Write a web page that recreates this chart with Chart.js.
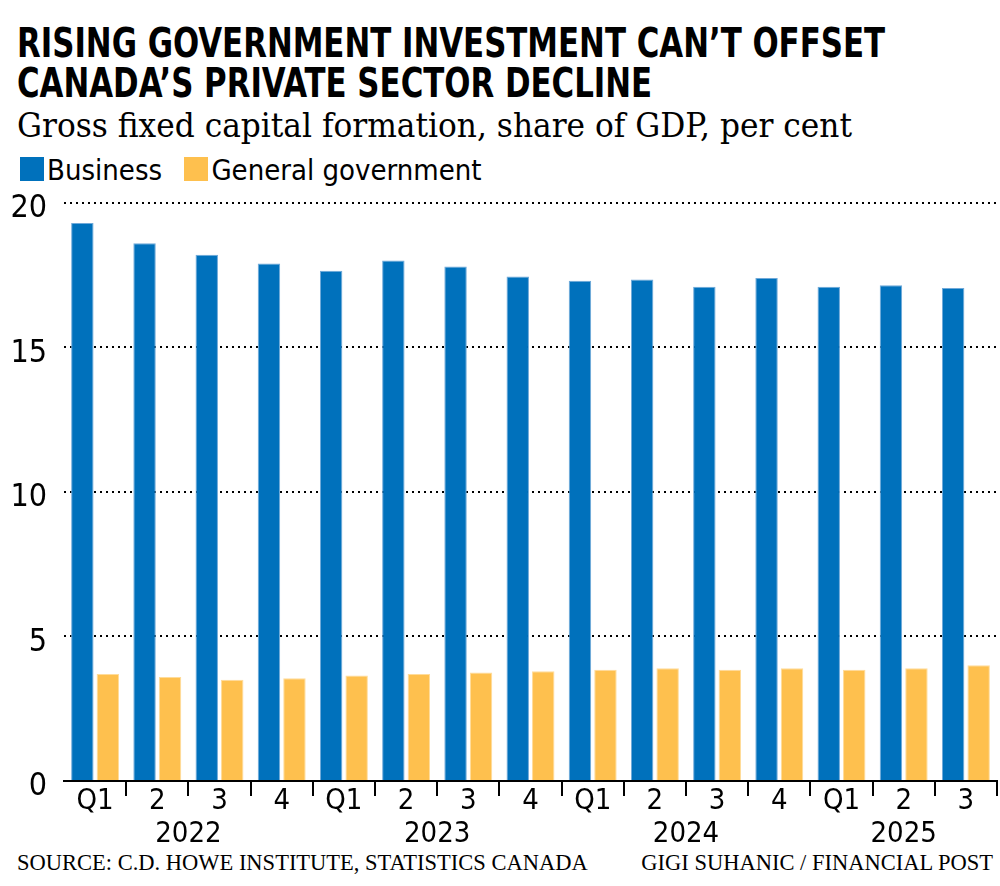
<html>
<head>
<script src="https://cdn.jsdelivr.net/npm/chart.js@4/dist/chart.umd.min.js"></script>
<style>
  body { margin: 0; width: 1000px; height: 886px; background: #fff; position: relative; overflow: hidden; }
  .narrow { font-family: 'Liberation Sans Narrow', 'DejaVu Sans Condensed', sans-serif; }
  .serif { font-family: 'DejaVu Serif', 'Liberation Serif', serif; }
  .fit { position: absolute; white-space: nowrap; transform-origin: 0 0; }
  #t1, #t2 { left: 17px; font-size: 41px; line-height: 40px; font-weight: bold; color: #000; }
  #t1 { top: 23px; }
  #t2 { top: 63px; }
  #subtitle { left: 17px; top: 106px; font-size: 33px; line-height: 40px; color: #000; }
  #legend { position: absolute; left: 20px; top: 152px; font-size: 29px; line-height: 36px; color: #000; white-space: nowrap; }
  #legend span.sw { display: inline-block; width: 24px; height: 24px; vertical-align: -1px; margin-right: 3px; }
  #legend span.item { margin-right: 14px; }
  #chartBox { position: absolute; left: 0; top: 169px; width: 1000px; height: 681px; }
  .foot { position: absolute; top: 850px; font-size: 22.5px; line-height: 26px; color: #000; white-space: nowrap; font-family: 'Liberation Serif', serif; }
</style>
</head>
<body>
  <div id="t1" class="narrow fit">RISING GOVERNMENT INVESTMENT CAN’T OFFSET</div>
  <div id="t2" class="narrow fit">CANADA’S PRIVATE SECTOR DECLINE</div>
  <div id="subtitle" class="serif fit">Gross fixed capital formation, share of GDP, per cent</div>
  <div id="legend" class="narrow">
    <span class="item"><span class="sw" style="background:#0071bc"></span>Business</span>
    <span class="item"><span class="sw" style="background:#fec04e"></span>General government</span>
  </div>
  <div id="chartBox"><canvas id="chart"></canvas></div>
  <div class="foot" style="left:17px;">SOURCE: C.D. HOWE INSTITUTE, STATISTICS CANADA</div>
  <div class="foot" style="right:7px;">GIGI SUHANIC / FINANCIAL POST</div>

<script>
  // data
  const quarters = ['Q1', '2', '3', '4', 'Q1', '2', '3', '4', 'Q1', '2', '3', '4', 'Q1', '2', '3'];
  const yearLabels = ['2022', '2023', '2024', '2025'];
  const quartersPerYear = [4, 4, 4, 3];
  const business = [19.3, 18.6, 18.2, 17.9, 17.65, 18.0, 17.8, 17.45, 17.3, 17.35, 17.1, 17.4, 17.1, 17.15, 17.05];
  const government = [3.7, 3.6, 3.5, 3.55, 3.65, 3.7, 3.75, 3.8, 3.85, 3.9, 3.85, 3.9, 3.85, 3.9, 4.0];
  const yTicks = [0, 5, 10, 15, 20];

  const narrowFont = "'Liberation Sans Narrow', 'DejaVu Sans Condensed', sans-serif";

  // squeeze the headline text to the reference widths (no condensed font here)
  const t1 = document.getElementById('t1');
  const titleScale = 868 / t1.getBoundingClientRect().width;
  t1.style.transform = `scaleX(${titleScale})`;
  document.getElementById('t2').style.transform = `scaleX(${titleScale})`;
  const sub = document.getElementById('subtitle');
  sub.style.transform = `scaleX(${835 / sub.getBoundingClientRect().width})`;

  // year names under the quarter labels
  const yearPlugin = {
    id: 'years',
    afterDraw(chart) {
      const x = chart.scales.x;
      const ctx = chart.ctx;
      let start = 0;
      ctx.save();
      ctx.font = '29px ' + narrowFont;
      ctx.fillStyle = '#000';
      ctx.textAlign = 'center';
      ctx.textBaseline = 'alphabetic';
      yearLabels.forEach((y, i) => {
        const end = start + quartersPerYear[i] - 1;
        const cx = (x.getPixelForValue(start) + x.getPixelForValue(end)) / 2;
        ctx.fillText(y, cx, x.top + 61);
        start = end + 1;
      });
      ctx.restore();
    }
  };

  new Chart(document.getElementById('chart'), {
    type: 'bar',
    data: {
      labels: quarters,
      datasets: [
        { label: 'Business', data: business, backgroundColor: '#0071bc', borderColor: '#6fa9d9', borderWidth: 1 },
        { label: 'General government', data: government, backgroundColor: '#fec04e', borderColor: '#ffdc9a', borderWidth: 1 }
      ]
    },
    options: {
      responsive: true,
      maintainAspectRatio: false,
      animation: false,
      categoryPercentage: 0.82,
      barPercentage: 0.88,
      layout: { padding: { top: 0, right: 3, left: 0, bottom: 0 } },
      plugins: {
        legend: { display: false },
        tooltip: { enabled: false }
      },
      scales: {
        x: {
          offset: true,
          border: { display: true, color: '#000', width: 2 },
          grid: {
            offset: true,
            drawOnChartArea: false,
            drawTicks: true,
            tickLength: 15,
            lineWidth: 2,
            color: ctx => (ctx.index === 0 || ctx.index === quarters.length) ? 'rgba(0,0,0,0)' : '#000'
          },
          ticks: {
            color: '#000',
            font: { family: narrowFont, size: 29 },
            padding: -12,
            maxRotation: 0,
            autoSkip: false
          },
          afterFit: scale => { scale.height = 69; }
        },
        y: {
          min: 0,
          max: 20,
          afterBuildTicks: scale => { scale.ticks = yTicks.map(v => ({ value: v })); },
          border: { display: false, dash: [2, 4] },
          grid: {
            drawTicks: false,
            lineWidth: 2,
            color: ctx => ctx.tick && ctx.tick.value === 0 ? 'rgba(0,0,0,0)' : '#000'
          },
          ticks: {
            color: '#000',
            font: { family: narrowFont, size: 32, lineHeight: 1.05 },
            padding: 17,
            labelOffset: 6
          },
          afterFit: scale => { scale.width = 64; }
        }
      }
    },
    plugins: [yearPlugin]
  });
</script>
</body>
</html>
